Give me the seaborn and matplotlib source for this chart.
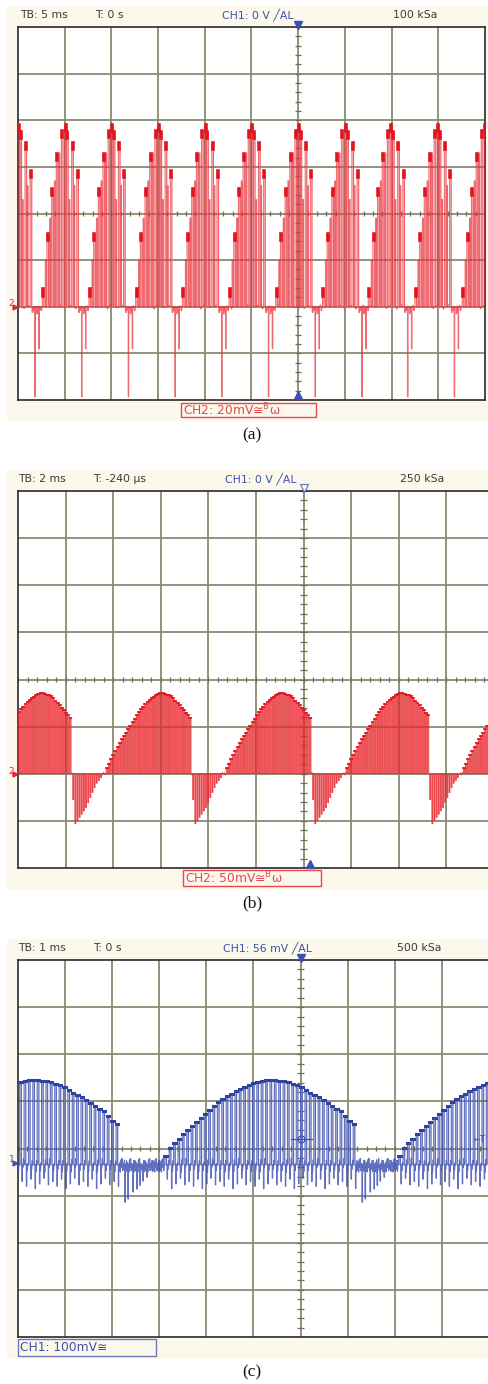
import numpy as np
import pandas as pd
import matplotlib
matplotlib.use("Agg")
import matplotlib.pyplot as plt
from matplotlib.patches import Rectangle
from matplotlib.collections import LineCollection
import seaborn as sns

W, H = 489, 1384

# ---------------- panel (a): CH2 20 mV/div, 5 ms/div ----------------
a_cycle_starts = [-0.48, 0.52, 1.52, 2.52, 3.52, 4.52, 5.52, 6.52, 7.50, 8.50, 9.51]
a_pulse_offsets = [0.00, 0.10, 0.20, 0.30, 0.41, 0.48, 0.52, 0.63, 0.74]
a_pulse_heights = [0.35, 1.55, 2.50, 3.25, 3.75, 3.87, 3.72, 3.50, 2.90]
a_sub_offsets = [0.065, 0.16, 0.26, 0.36, 0.575, 0.68]
a_sub_heights = [1.00, 1.90, 2.70, 3.30, 2.30, 2.60]
a_neg_offsets = [0.84, 0.925]
a_neg_depths = [1.93, 0.90]
a_dip_offsets = [0.78, 0.80, 0.88, 0.90, 0.97]
a_dip_depths = [0.12, 0.08, 0.15, 0.10, 0.08]
a_ground = -2.0
a_jitter = [0.03, -0.04, 0.02, -0.05, 0.04, -0.02]

# ---------------- panel (b): CH2 50 mV/div, 2 ms/div ----------------
b_cycle_starts = [-1.39, 1.13, 3.65, 6.17, 8.63]
b_neg_env_x = [0.00, 0.04, 0.29, 0.50, 0.67]
b_neg_env_d = [0.00, 1.10, 0.72, 0.22, 0.00]
b_pos_env_x = [0.67, 0.80, 1.01, 1.22, 1.43, 1.64, 1.85, 2.06, 2.27, 2.44, 2.52]
b_pos_env_h = [0.00, 0.28, 0.68, 1.02, 1.36, 1.59, 1.72, 1.66, 1.44, 1.23, 1.15]
b_carrier = 0.045
b_ground = -2.0
b_jitter = [0.02, -0.03, 0.03, -0.02]

# ---------------- panel (c): CH1 100 mV/div, 1 ms/div ----------------
c_cycle_starts = [-2.02, 3.015, 7.98]
c_pos_env_x = [0.000, 0.064, 0.212, 0.425, 0.637, 0.849, 1.062, 1.274, 1.486, 1.699, 1.911,
               2.123, 2.335, 2.548, 2.760, 2.972, 3.185, 3.397, 3.609, 3.822, 3.970, 4.183]
c_pos_env_h = [0.00, 0.13, 0.38, 0.60, 0.81, 1.00, 1.19, 1.38, 1.51, 1.62, 1.72,
               1.79, 1.81, 1.79, 1.74, 1.66, 1.53, 1.43, 1.26, 1.15, 0.96, 0.81]
c_gap_spike_x = [0.106, 0.170, 0.276, 0.360, 0.425, 0.488, 0.573]
c_gap_spike_d = [0.79, 0.72, 0.57, 0.51, 0.43, 0.34, 0.26]
c_undershoot = [0.35, 0.45, 0.30, 0.50, 0.40, 0.28, 0.42]
c_carrier = 0.093
c_ground = -0.31
c_trig_level = 0.20
c_jitter = [0.09, -0.12, 0.05, -0.15, 0.11, -0.05, 0.14, -0.12, 0.03, -0.09, 0.10, -0.14]

# header / label texts
a_headers = ["TB: 5 ms", "T: 0 s", "CH1: 0 V \u2571AL", "100 kSa"]
b_headers = ["TB: 2 ms", "T: -240 \u00b5s", "CH1: 0 V \u2571AL", "250 kSa"]
c_headers = ["TB: 1 ms", "T: 0 s", "CH1: 56 mV \u2571AL", "500 kSa"]
a_label = "CH2: 20mV\u2245$^{\\mathsf{B}}$\u03c9"
b_label = "CH2: 50mV\u2245$^{\\mathsf{B}}$\u03c9"
c_label = "CH1: 100mV\u2245"
captions = ["(a)", "(b)", "(c)"]

BEIGE = "#FCF8EC"
GRID = "#8A8A72"
RED = "#E8212B"
BLUE = "#3D4FB0"
DARK = "#3a3a3a"

fig = plt.figure(figsize=(W / 100, H / 100), dpi=100)


def fig_rect(x0, y0, x1, y1, **kw):
    r = Rectangle((x0 / W, 1 - y1 / H), (x1 - x0) / W, (y1 - y0) / H,
                  transform=fig.transFigure, **kw)
    fig.patches.append(r)


def fig_text(x, y, s, **kw):
    fig.text(x / W, 1 - y / H, s, **kw)


def make_screen(x0, y0, x1, y1, center_x=6):
    ax = fig.add_axes([x0 / W, 1 - y1 / H, (x1 - x0) / W, (y1 - y0) / H], zorder=2)
    ax.set_facecolor("white")
    ax.set_xlim(0, 10)
    ax.set_ylim(-4, 4)
    for i in range(1, 10):
        ax.axvline(i, color=GRID, lw=1.3, zorder=1)
    for j in range(-3, 4):
        ax.axhline(j, color=GRID, lw=1.3, zorder=1)
    # minor ticks along the centre axes
    segs = []
    for k in range(-20, 21):
        segs.append([(center_x - 0.07, k * 0.2), (center_x + 0.07, k * 0.2)])
    for k in range(0, 51):
        segs.append([(k * 0.2, -0.06), (k * 0.2, 0.06)])
    ax.add_collection(LineCollection(segs, colors="#6f6f5a", linewidths=0.9, zorder=1.5))
    for sp in ax.spines.values():
        sp.set_color("#2a2a2a")
        sp.set_linewidth(1.2)
    return ax


def build_trace(events, ground, jitter, step, x_start=-0.1, x_end=10.2):
    xs, ys = [x_start], [ground]
    pos, k = x_start, 0
    tops = []
    for idx, (t, h, w) in enumerate(sorted(events)):
        if t < x_start or t > x_end:
            continue
        p = pos + step
        while p < t - step * 0.5:
            xs.append(p)
            ys.append(ground + jitter[k % len(jitter)])
            k += 1
            p += step
        xs += [t, t, t + w, t + w]
        ys += [ground, ground + h, ground + h, ground]
        if h > 0:
            tops.append((idx, t, t + w, ground + h))
        pos = t + w
    xs.append(x_end)
    ys.append(ground)
    return pd.DataFrame({"t": xs, "v": ys}), tops


def flat_tops(tops, pad=0.008):
    rows = []
    for idx, ta, tb, v in tops:
        rows.append((idx, ta - pad, v))
        rows.append((idx, tb + pad, v))
    return pd.DataFrame(rows, columns=["pulse", "t", "v"])


def draw_trace(ax, df, tdf, ground, line_c, fill_c, line_w, line_a, fill_a, top_c, top_w):
    ax.fill_between(df["t"], ground, df["v"], color=fill_c, alpha=fill_a, lw=0, zorder=2)
    sns.lineplot(data=df, x="t", y="v", sort=False, estimator=None, color=line_c,
                 lw=line_w, alpha=line_a, ax=ax, zorder=3)
    if len(tdf):
        sns.lineplot(data=tdf, x="t", y="v", units="pulse", sort=False, estimator=None,
                     color=top_c, lw=top_w, ax=ax, zorder=4)
    ax.set_xlim(0, 10)
    ax.set_ylim(-4, 4)
    ax.set_xticks([])
    ax.set_yticks([])
    ax.set_xlabel("")
    ax.set_ylabel("")


def headers(y, texts, xs, blue_idx=2):
    for i, (s, x) in enumerate(zip(texts, xs)):
        fig_text(x, y, s, ha="left", va="center", fontsize=7.8,
                 color=BLUE if i == blue_idx else DARK)


# ======================= panel (a) =======================
fig_rect(7, 6, 489, 421, facecolor=BEIGE, edgecolor="none", zorder=-5)
axa = make_screen(18, 27, 485, 400)
events = []
for s in a_cycle_starts:
    for o, h in zip(a_pulse_offsets, a_pulse_heights):
        events.append((s + o, h, 0.035))
    for o, h in zip(a_sub_offsets, a_sub_heights):
        events.append((s + o, h, 0.015))
    for o, d in zip(a_neg_offsets, a_neg_depths):
        events.append((s + o, -d, 0.010))
    for o, d in zip(a_dip_offsets, a_dip_depths):
        events.append((s + o, -d, 0.015))
dfa, tops_a = build_trace(events, a_ground, a_jitter, 0.02)
# short bright blobs sitting on the top of each main pulse
rows = []
for idx, ta, tb, v in tops_a:
    if tb - ta > 0.03:
        tc = 0.5 * (ta + tb)
        rows.append((idx, tc, v - 0.11))
        rows.append((idx, tc, v + 0.02))
tda = pd.DataFrame(rows, columns=["pulse", "t", "v"])
draw_trace(axa, dfa, tda, a_ground, RED, "#F5A5AC", 0.8, 0.65, 0.5, "#E3141E", 2.6)
axa.plot(6, 4.04, marker="v", ms=6, color=BLUE, clip_on=False, zorder=6)
axa.plot(6, -3.9, marker="^", ms=6, color=BLUE, clip_on=False, zorder=6)
axa.plot(-0.06, a_ground, marker=">", ms=3.5, color=RED, clip_on=False, zorder=6)
fig_text(8.5, 303, "2", ha="left", va="center", fontsize=6.5, color=RED)
headers(15, a_headers, [20, 95, 222, 393])
fig_rect(181, 403, 316, 417, facecolor="none", edgecolor="#E8474F", lw=1.0, zorder=5)
fig_text(183, 410.5, a_label, ha="left", va="center", fontsize=8.8, color="#E8474F")
fig_text(252, 435, captions[0], ha="center", va="center", fontsize=12.5,
         family="Liberation Serif", color="#111111")

# ======================= panel (b) =======================
fig_rect(7, 470, 489, 889, facecolor=BEIGE, edgecolor="none", zorder=-5)
axb = make_screen(18, 491, 494, 868)
events = []
for i, s in enumerate(b_cycle_starts):
    s_next = b_cycle_starts[i + 1] if i + 1 < len(b_cycle_starts) else s + b_pos_env_x[-1]
    t = s + 0.02
    while t < s + b_neg_env_x[-1]:
        d = np.interp(t - s, b_neg_env_x, b_neg_env_d)
        if d > 0.03:
            events.append((t, -d, 0.02))
        t += b_carrier
    t = s + b_pos_env_x[0] + 0.01
    while t < min(s + b_pos_env_x[-1], s_next) - 0.02:
        h = np.interp(t - s, b_pos_env_x, b_pos_env_h)
        if h > 0.03:
            events.append((t, h, 0.025))
        t += b_carrier
dfb, tops_b = build_trace(events, b_ground, b_jitter, 0.02)
draw_trace(axb, dfb, flat_tops(tops_b), b_ground, RED, "#E2553A", 0.6, 0.85, 0.55,
           "#E3141E", 1.3)
axb.plot(6, 4.06, marker="v", ms=6, mfc="white", mec="#6a78c0", mew=0.9,
         clip_on=False, zorder=6)
axb.plot(6.13, -3.92, marker="^", ms=6, color=BLUE, clip_on=False, zorder=6)
axb.plot(-0.06, b_ground, marker=">", ms=3.5, color=RED, clip_on=False, zorder=6)
fig_text(8.5, 771, "2", ha="left", va="center", fontsize=6.5, color=RED)
headers(479, b_headers, [18, 93, 225, 400])
fig_rect(183, 870, 321, 886, facecolor="none", edgecolor="#E8474F", lw=1.0, zorder=5)
fig_text(185, 878, b_label, ha="left", va="center", fontsize=8.8, color="#E8474F")
fig_text(252, 903, captions[1], ha="center", va="center", fontsize=12.5,
         family="Liberation Serif", color="#111111")

# ======================= panel (c) =======================
fig_rect(7, 939, 489, 1359, facecolor=BEIGE, edgecolor="none", zorder=-5)
axc = make_screen(18, 960, 489, 1337)
events = []
u = 0
for s in c_cycle_starts:
    t = s + 0.01
    while t < s + c_pos_env_x[-1] + 0.01:
        h = np.interp(t - s, c_pos_env_x, c_pos_env_h)
        if h > 0.03:
            events.append((t, h, 0.035))
            events.append((t + 0.048, -c_undershoot[u % len(c_undershoot)], 0.008))
            u += 1
        t += c_carrier
    end = s + c_pos_env_x[-1]
    for o, d in zip(c_gap_spike_x, c_gap_spike_d):
        events.append((end + o, -d, 0.01))
dfc, tops_c = build_trace(events, c_ground - 0.04, c_jitter, 0.012)
draw_trace(axc, dfc, flat_tops(tops_c), c_ground, BLUE, "#A9B2E0", 0.85, 0.8, 0.5,
           "#2F449E", 2.2)
axc.plot(6, 4.05, marker="v", ms=6, color=BLUE, clip_on=False, zorder=6)
axc.plot(-0.06, c_ground, marker=">", ms=3.5, color=BLUE, clip_on=False, zorder=6)
axc.plot(6, c_trig_level, marker="o", ms=5, mfc="none", mec=BLUE, mew=0.9, zorder=6)
axc.plot([5.8, 6.25], [c_trig_level, c_trig_level], color=BLUE, lw=0.9, zorder=6)
fig_text(8.5, 1160, "1", ha="left", va="center", fontsize=6.5, color=BLUE)
fig_text(474, 1139, "\u2190T", ha="left", va="center", fontsize=6, color=BLUE, zorder=10)
headers(948, c_headers, [18, 93, 223, 397])
fig_rect(18, 1339, 156, 1356, facecolor="none", edgecolor="#6a78c0", lw=1.0, zorder=5)
fig_text(20, 1347.5, c_label, ha="left", va="center", fontsize=8.8, color=BLUE)
fig_text(252, 1372, captions[2], ha="center", va="center", fontsize=12.5,
         family="Liberation Serif", color="#111111")

fig.savefig("out.png", dpi=100)
